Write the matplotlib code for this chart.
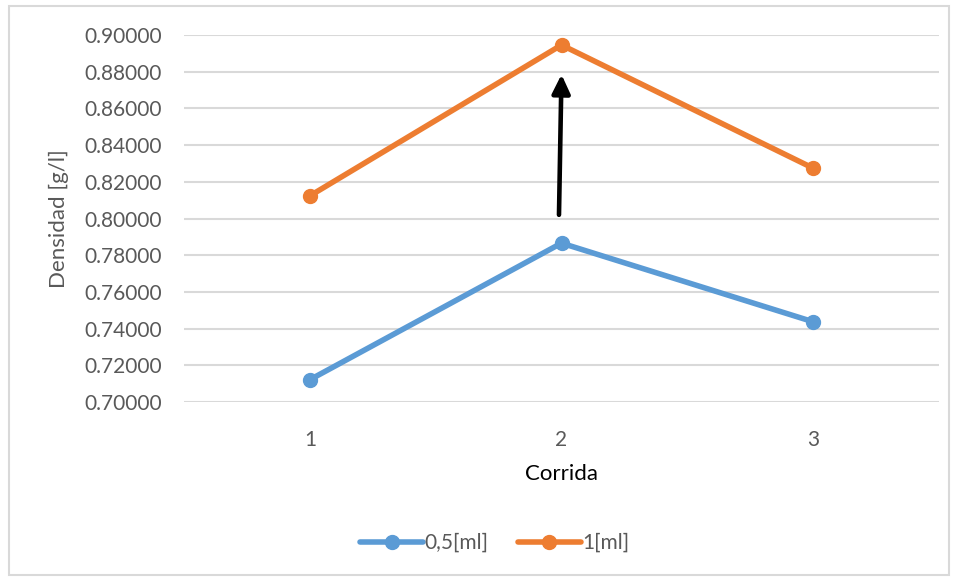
import matplotlib.pyplot as plt
from matplotlib.patches import Rectangle

plt.rcParams['font.family'] = ['Lato', 'DejaVu Sans']

corridas = [1, 2, 3]
dens_05ml = [0.71214, 0.78657, 0.74372]
dens_1ml = [0.81233, 0.89455, 0.82742]

AZUL = "#5b9bd5"
NARANJA = "#ed7d31"
GRIS = "#595959"

fig = plt.figure(figsize=(9.58, 5.78), dpi=100)
ax = fig.add_axes([184 / 958, 1 - 402 / 578, (939 - 184) / 958, (402 - 35) / 578])

ax.plot(corridas, dens_05ml, color=AZUL, lw=4, marker="o", ms=10, label="0,5[ml]",
        solid_capstyle="round")
ax.plot(corridas, dens_1ml, color=NARANJA, lw=4, marker="o", ms=10, label="1[ml]",
        solid_capstyle="round")

# flecha de la corrida 2
ax.annotate("", xy=(2.0, 0.8785), xytext=(1.99, 0.8020),
            arrowprops=dict(arrowstyle="-|>,head_length=0.75,head_width=0.36",
                            mutation_scale=15, color="black", lw=3.3,
                            shrinkA=0, shrinkB=0))

ax.set_xlim(0.5, 3.5)
ax.set_ylim(0.70, 0.90)
ax.set_xticks(corridas)
ax.set_yticks([0.70 + 0.02 * i for i in range(11)])
ax.yaxis.set_major_formatter(plt.FuncFormatter(lambda v, _: f"{v:.5f}"))
ax.tick_params(length=0, labelsize=15, labelcolor=GRIS)
ax.tick_params(axis="y", pad=16)
ax.tick_params(axis="x", pad=20)
ax.grid(axis="y", color="#d9d9d9", lw=1.5)
ax.set_axisbelow(True)
for s in ax.spines.values():
    s.set_visible(False)

ax.set_ylabel("Densidad [g/l]", fontsize=16, color=GRIS, labelpad=11)
ax.set_xlabel("Corrida", fontsize=16, color="black", labelpad=10)

leg = fig.legend(loc="center", bbox_to_anchor=(495 / 958, 1 - 543 / 578), ncol=2,
                 frameon=False, fontsize=15, handlelength=3.0, columnspacing=1.4,
                 handletextpad=0.1)
for t in leg.get_texts():
    t.set_color(GRIS)

fig.patches.append(Rectangle((9 / 958, 3 / 578), 940 / 958, 569 / 578,
                             transform=fig.transFigure, fill=False,
                             edgecolor="#d9d9d9", lw=1.5))

fig.savefig("out.png", dpi=100)
